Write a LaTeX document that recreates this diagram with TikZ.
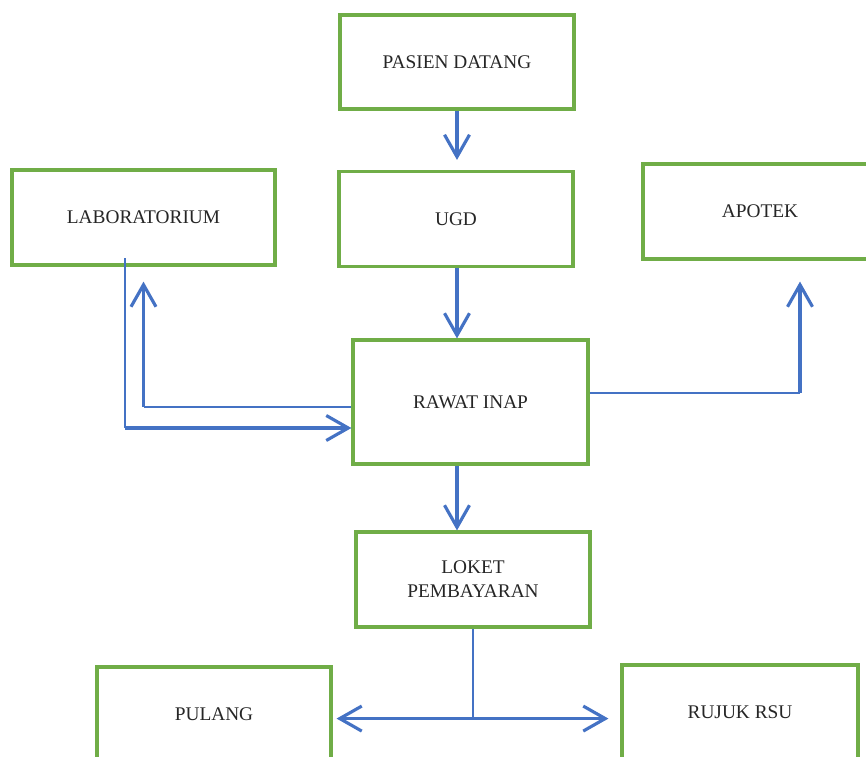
\documentclass[tikz,border=0pt]{standalone}
\usepackage{fontspec}
\setmainfont{Liberation Serif}
\usetikzlibrary{arrows.meta,calc}
\definecolor{hijau}{RGB}{112,173,71}
\definecolor{biru}{RGB}{68,114,196}
\tikzset{
	kotak/.style={draw=hijau, line width=1.8pt, fill=white, text=black!85, align=center,
		inner sep=0pt, font=\fontsize{11}{13.7}\selectfont},
	ujung/.tip={Straight Barb[length=4.4mm,width=5mm]},
	panah/.style={draw=biru, line width=1.8pt, -ujung},
	garis/.style={draw=biru, line width=0.9pt},
}
\begin{document}
\begin{tikzpicture}[x=0.02cm,y=-0.02cm]
		\useasboundingbox (0,0) rectangle (866,757);
		\clip (0,0) rectangle (866,757);

		% kotak
		\node[kotak, minimum width=4.68cm, minimum height=1.88cm] (pasien) at (457,62) {PASIEN DATANG};
		\node[kotak, minimum width=4.68cm, minimum height=1.9cm] (ugd) at (456,219) {UGD};
		\node[kotak, minimum width=5.26cm, minimum height=1.9cm] (lab) at (143.5,217.5) {LABORATORIUM};
		\node[kotak, minimum width=4.68cm, minimum height=1.9cm] (apotek) at (760,211.5) {APOTEK};
		\node[kotak, minimum width=4.7cm, minimum height=2.48cm] (rawat) at (470.5,402) {RAWAT INAP};
		\node[kotak, minimum width=4.68cm, minimum height=1.9cm] (loket) at (473,579.5) {LOKET\\PEMBAYARAN};
		\node[kotak, minimum width=4.68cm, minimum height=1.9cm] (pulang) at (214,714.5) {PULANG};
		\node[kotak, minimum width=4.72cm, minimum height=1.9cm] (rujuk) at (740,712.5) {RUJUK RSU};

		% alur utama
		\draw[panah, shorten >=0.2cm] (pasien.south) -- (pasien.south |- ugd.north);
		\draw[panah] (pasien.south |- ugd.south) -- (pasien.south |- rawat.north);
		\draw[panah] (pasien.south |- rawat.south) -- (pasien.south |- loket.north);

		% laboratorium
		\coordinate (labkeluar) at (125,258);
		\coordinate (labsudut) at (125,428);
		\draw[garis] (labkeluar) -- (labsudut);
		\draw[panah] (labsudut) -- (labsudut -| rawat.west);
		\coordinate (labbalik) at ($(rawat.west)+(0,5)$);
		\draw[garis] (labbalik) -- (labbalik -| lab.south);
		\draw[panah, shorten >=0.3cm] (labbalik -| lab.south) -- (lab.south);

		% apotek
		\coordinate (apokeluar) at ($(rawat.east)+(0,-9)$);
		\coordinate (apotuju) at ($(apotek.south)+(40,0)$);
		\draw[garis] (apokeluar) -- (apokeluar -| apotuju);
		\draw[panah, shorten >=0.42cm] (apokeluar -| apotuju) -- (apotuju);

		% pulang / rujuk
		\draw[garis] (loket.south) -- ++(0,90) coordinate (cabang);
		\draw[panah, ujung-ujung, shorten <=0.08cm, shorten >=0.24cm] (cabang -| pulang.east) -- (cabang -| rujuk.west);
	\end{tikzpicture}
\end{document}
